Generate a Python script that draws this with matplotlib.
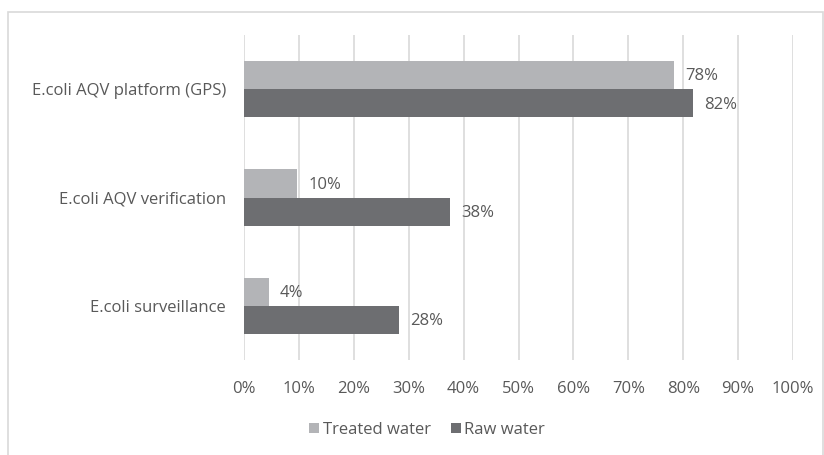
import matplotlib.pyplot as plt
import numpy as np
from matplotlib.patches import Rectangle

# Chart data
categories = ['E.coli AQV platform (GPS)', 'E.coli AQV verification', 'E.coli surveillance']
treated = [0.783, 0.097, 0.045]
raw = [0.818, 0.376, 0.283]
treated_labels = ['78%', '10%', '4%']
raw_labels = ['82%', '38%', '28%']
xticks = [0, 0.1, 0.2, 0.3, 0.4, 0.5, 0.6, 0.7, 0.8, 0.9, 1.0]
xtick_labels = ['0%', '10%', '20%', '30%', '40%', '50%', '60%', '70%', '80%', '90%', '100%']

treated_color = '#b3b4b7'
raw_color = '#6d6e71'
text_color = '#595959'
grid_color = '#d9d9d9'
fs = 12

plt.rcParams['font.family'] = ['Open Sans', 'DejaVu Sans']

fig = plt.figure(figsize=(8.24, 4.55), dpi=100)
ax = fig.add_axes([244 / 824, 1 - 360 / 455, 549 / 824, 325 / 455])

# outer frame
fig.patches.append(Rectangle((8 / 824, -0.05), 815 / 824, 1 - 12 / 455 + 0.05,
                             transform=fig.transFigure, fill=False,
                             edgecolor=grid_color, linewidth=1.2))

y = np.arange(len(categories))
h = 0.26
ax.barh(y - h / 2, treated, height=h, color=treated_color, label='Treated water', zorder=3)
ax.barh(y + h / 2, raw, height=h, color=raw_color, label='Raw water', zorder=3)

for i in range(len(categories)):
    ax.annotate(treated_labels[i], (treated[i], y[i] - h / 2), xytext=(8, -1),
                textcoords='offset points', va='center', ha='left',
                fontsize=fs, color=text_color)
    ax.annotate(raw_labels[i], (raw[i], y[i] + h / 2), xytext=(8, -1),
                textcoords='offset points', va='center', ha='left',
                fontsize=fs, color=text_color)

ax.set_xlim(0, 1.0)
ax.set_ylim(2.5, -0.5)
ax.set_yticks(y)
ax.set_yticklabels(categories, fontsize=fs, color=text_color)
ax.set_xticks(xticks)
ax.set_xticklabels(xtick_labels, fontsize=fs, color=text_color)
ax.tick_params(axis='both', length=0)
ax.tick_params(axis='x', pad=15)
ax.tick_params(axis='y', pad=13)
ax.grid(axis='x', color=grid_color, linewidth=1.2, zorder=0)
for s in ax.spines.values():
    s.set_visible(False)

leg = fig.legend(loc='center', bbox_to_anchor=(427 / 824, 1 - 430 / 455), ncol=2,
                 frameon=False, fontsize=fs, handlelength=0.6, handleheight=0.6,
                 handletextpad=0.2, columnspacing=1.2)
for t in leg.get_texts():
    t.set_color(text_color)

fig.savefig('out.png', dpi=100)
